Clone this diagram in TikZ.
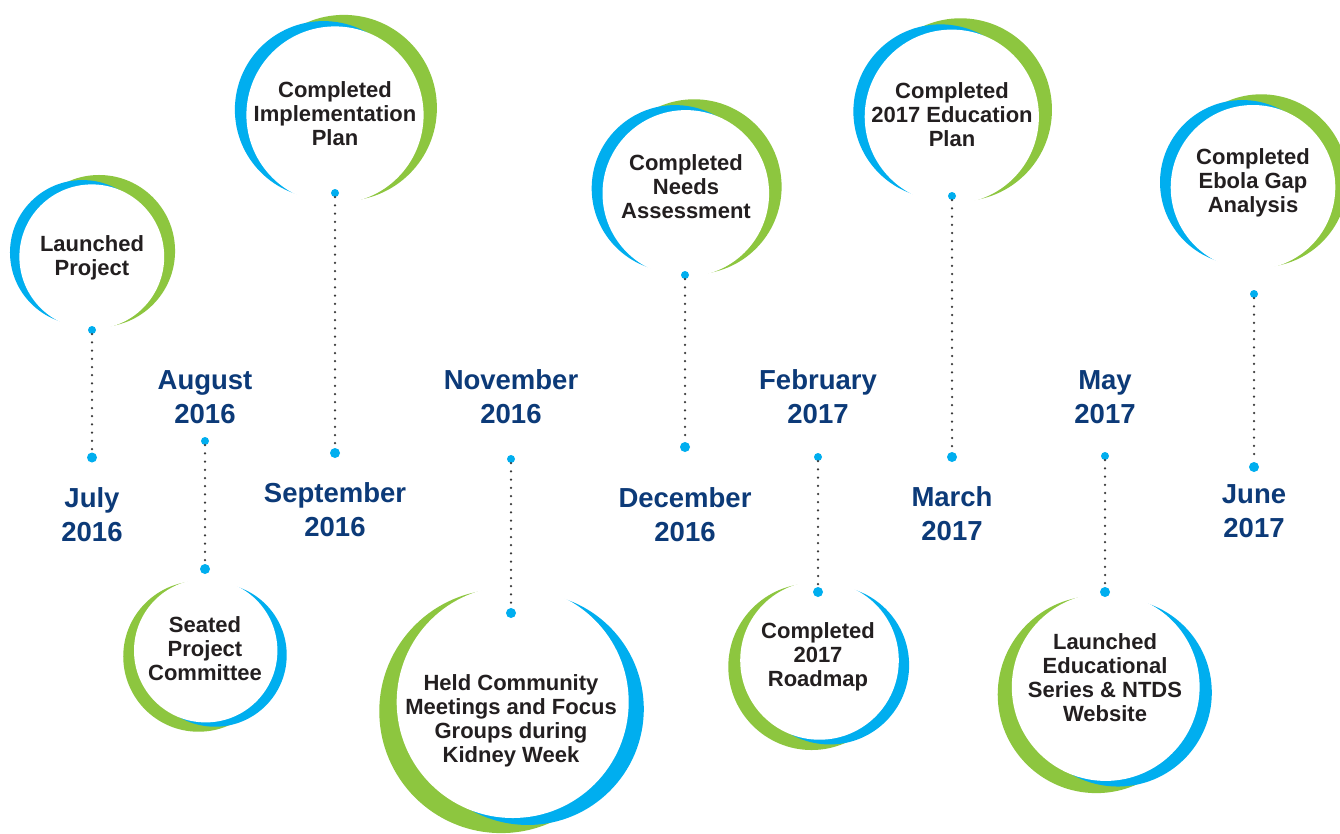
\documentclass[tikz,border=0pt]{standalone}
\usepackage{fontspec}
\setmainfont{Liberation Sans}
\definecolor{cblue}{HTML}{00AEEF}
\definecolor{cgreen}{HTML}{8DC63F}
\definecolor{navy}{RGB}{12,58,120}
\definecolor{ink}{HTML}{231F20}
\definecolor{dotgray}{HTML}{3A3A3A}
\newcommand\drawcres[4]{%
  \begin{scope}[shift={(#1,#2)},rotate=#4]
    \fill[cgreen] ({0.10*#3},{-0.08*#3}) circle[radius={1.05*#3*1pt}];
    \fill[cblue] ({-0.13*#3},{-0.06*#3}) circle[radius={#3*1pt}];
    \fill[white] (0,0) circle[radius={#3*1pt}];
  \end{scope}}
\tikzset{
  event/.style={font=\bfseries\fontsize{22}{24}\selectfont, text=ink, align=center, inner sep=0pt},
  month/.style={font=\bfseries\fontsize{27.5}{34}\selectfont, text=navy, align=center, inner sep=0pt},
  dotsm/.style={circle, fill=cblue, inner sep=0pt, minimum size=8pt},
  dotbg/.style={circle, fill=cblue, inner sep=0pt, minimum size=10pt},
  dotline/.style={dotgray, line width=2.5pt, line cap=round, dash pattern=on 0pt off 8.2pt}
}
\begin{document}
\begin{tikzpicture}[x=1pt,y=-1pt]
\useasboundingbox[fill=white] (0,0) rectangle (1340,833);
% crescent circles
\drawcres{91.8}{256.8}{72.4}{0}
\drawcres{335}{115}{88.6}{0}
\drawcres{685.8}{193.4}{83.3}{0}
\drawcres{951.8}{116.7}{87.1}{0}
\drawcres{1253}{187.3}{82.3}{0}
\drawcres{205.7}{650.7}{71.7}{180}
\drawcres{512.7}{702}{116}{180}
\drawcres{819.5}{660.4}{79.3}{180}
\drawcres{1105.7}{687}{93.9}{180}
% dots
\node[dotsm] (d1a) at (92,330) {};   \node[dotbg] (d1b) at (92,457.5) {};
\node[dotsm] (d2a) at (205,441) {};  \node[dotbg] (d2b) at (205,569) {};
\node[dotsm] (d3a) at (335,193) {};  \node[dotbg] (d3b) at (335,453) {};
\node[dotsm] (d4a) at (511,459) {};  \node[dotbg] (d4b) at (511,613) {};
\node[dotsm] (d5a) at (685,275) {};  \node[dotbg] (d5b) at (685,447) {};
\node[dotsm] (d6a) at (818,457) {};  \node[dotbg] (d6b) at (818,592) {};
\node[dotsm] (d7a) at (952,196) {};  \node[dotbg] (d7b) at (952,457) {};
\node[dotsm] (d8a) at (1105,456) {}; \node[dotbg] (d8b) at (1105,592) {};
\node[dotsm] (d9a) at (1254,294) {}; \node[dotbg] (d9b) at (1254,467) {};
\foreach \i in {1,...,9} { \draw[dotline] (d\i a) -- (d\i b); }
% month labels
\node[month] (m1) at (92,515) {July\\2016};
\node[month] (m2) at (205,397) {August\\2016};
\node[month] (m3) at (335,510) {September\\2016};
\node[month] (m4) at (511,397) {November\\2016};
\node[month] (m5) at (685,515) {December\\2016};
\node[month] (m6) at (818,397) {February\\2017};
\node[month] (m7) at (952,514) {March\\2017};
\node[month] (m8) at (1105,397) {May\\2017};
\node[month] (m9) at (1254,511) {June\\2017};
% event texts
\node[event] (e1) at (92,258) {Launched\\Project};
\node[event] (e2) at (335,114) {Completed\\Implementation\\Plan};
\node[event] (e3) at (686,187) {Completed\\Needs\\Assessment};
\node[event] (e4) at (952,115) {Completed\\2017 Education\\Plan};
\node[event] (e5) at (1253,183) {Completed\\Ebola Gap\\Analysis};
\node[event] (e6) at (205,649) {Seated\\Project\\Committee};
\node[event] (e7) at (511,721) {Held Community\\Meetings and Focus\\Groups during\\Kidney Week};
\node[event] (e8) at (818,657) {Completed\\2017\\Roadmap};
\node[event] (e9) at (1105,678) {Launched\\Educational\\Series \& NTDS\\Website};
\end{tikzpicture}
\end{document}
